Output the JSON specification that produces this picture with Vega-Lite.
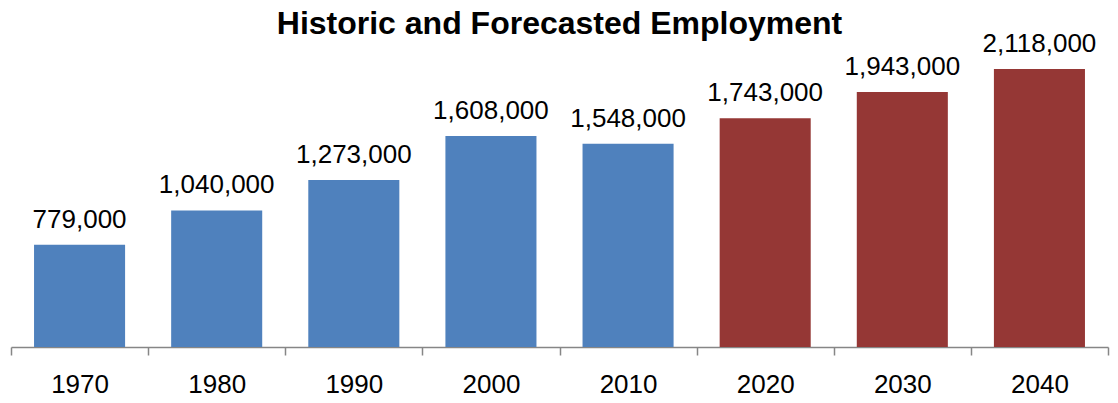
{
  "$schema": "https://vega.github.io/schema/vega-lite/v6.json",
  "autosize": {"type": "none"},
  "padding": {"left": 11, "top": 47, "right": 10, "bottom": 56},
  "width": 1097,
  "height": 300,
  "background": "white",
  "title": {
    "text": "Historic and Forecasted Employment",
    "font": "Liberation Sans",
    "fontSize": 32,
    "fontWeight": "bold",
    "color": "black",
    "anchor": "middle",
    "offset": -10
  },
  "data": {
    "values": [
      {"year": "1970", "jobs": 779000, "kind": "Historic"},
      {"year": "1980", "jobs": 1040000, "kind": "Historic"},
      {"year": "1990", "jobs": 1273000, "kind": "Historic"},
      {"year": "2000", "jobs": 1608000, "kind": "Historic"},
      {"year": "2010", "jobs": 1548000, "kind": "Historic"},
      {"year": "2020", "jobs": 1743000, "kind": "Forecast"},
      {"year": "2030", "jobs": 1943000, "kind": "Forecast"},
      {"year": "2040", "jobs": 2118000, "kind": "Forecast"}
    ]
  },
  "encoding": {
    "x": {
      "field": "year",
      "type": "ordinal",
      "scale": {"paddingInner": 0, "paddingOuter": 0},
      "axis": {
        "title": null,
        "labelAngle": 0,
        "labelFont": "Liberation Sans",
        "labelFontSize": 26,
        "labelColor": "black",
        "labelPadding": 16,
        "tickBand": "extent",
        "tickSize": 8,
        "tickColor": "#868686",
        "domainColor": "#868686",
        "domainWidth": 1.5,
        "tickWidth": 1.5
      }
    },
    "y": {
      "field": "jobs",
      "type": "quantitative",
      "scale": {"domain": [0, 2285600]},
      "axis": null
    }
  },
  "layer": [
    {
      "mark": {"type": "bar", "width": {"band": 0.664}},
      "encoding": {
        "color": {
          "field": "kind",
          "type": "nominal",
          "scale": {"domain": ["Historic", "Forecast"], "range": ["#4F81BD", "#953735"]},
          "legend": null
        }
      }
    },
    {
      "mark": {
        "type": "text",
        "baseline": "alphabetic",
        "dy": -17,
        "font": "Liberation Sans",
        "fontSize": 26,
        "color": "black"
      },
      "encoding": {
        "text": {"field": "jobs", "type": "quantitative", "format": ","}
      }
    }
  ],
  "config": {"view": {"stroke": null}}
}
